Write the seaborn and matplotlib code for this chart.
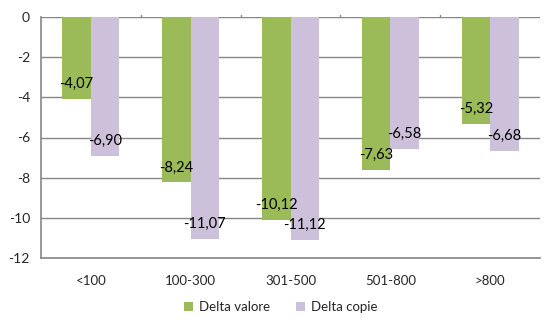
import matplotlib
matplotlib.use("Agg")
import matplotlib.pyplot as plt
import seaborn as sns
import pandas as pd

categories = ["<100", "100-300", "301-500", "501-800", ">800"]
delta_valore = [-4.07, -8.24, -10.12, -7.63, -5.32]
delta_copie = [-6.90, -11.07, -11.12, -6.58, -6.68]
series = ["Delta valore", "Delta copie"]
colors = ["#9BBB59", "#CCC0DA"]

df = pd.DataFrame({
    "cat": categories * 2,
    "val": delta_valore + delta_copie,
    "serie": [series[0]] * len(categories) + [series[1]] * len(categories),
})

sns.set_style("white")
plt.rcParams['font.family'] = ['Lato', 'DejaVu Sans']

fig = plt.figure(figsize=(5.5, 3.3), dpi=100)
ax = fig.add_axes([41/550, 1-258/330, (540-41)/550, (258-17)/330])

sns.barplot(data=df, x="cat", y="val", hue="serie", order=categories,
            hue_order=series, palette=colors, width=0.57, ax=ax,
            saturation=1, legend=True, errorbar=None, linewidth=0,
            edgecolor="none")

ax.set_ylim(-12, 0)
ax.set_xlim(-0.5, 4.5)
ax.set_yticks(range(-12, 1, 2))
ax.set_yticklabels([str(t) for t in range(-12, 1, 2)], fontsize=10)
ax.set_xlabel("")
ax.set_ylabel("")
ax.yaxis.grid(True, color="#868686", linewidth=1)
ax.set_axisbelow(True)
for s in ["right", "top"]:
    ax.spines[s].set_visible(False)
for s in ["left", "bottom"]:
    ax.spines[s].set_color("#868686")
    ax.spines[s].set_linewidth(1.2)
ax.tick_params(axis="y", length=4, color="#868686", direction="out", pad=4)
ax.tick_params(axis="x", length=0, pad=12, labelsize=9.5)

# category separator ticks on the zero line
for b in [0.5, 1.5, 2.5, 3.5]:
    ax.plot([b, b], [0, 0.12], color="#868686", lw=1, clip_on=False)

for cont in ax.containers:
    for bar in cont:
        v = bar.get_height()
        x = bar.get_x() + bar.get_width() / 2
        ax.text(x, v + 0.75, f"{v:.2f}".replace(".", ","), ha="center",
                va="center", fontsize=10.5, color="black")

leg = ax.legend(loc="upper center", bbox_to_anchor=(0.5 - 0.02, -0.13),
                ncol=2, frameon=False, fontsize=9.5, handlelength=0.7,
                handleheight=0.7, handletextpad=0.4, columnspacing=2.0)

fig.savefig("out.png", dpi=100)
